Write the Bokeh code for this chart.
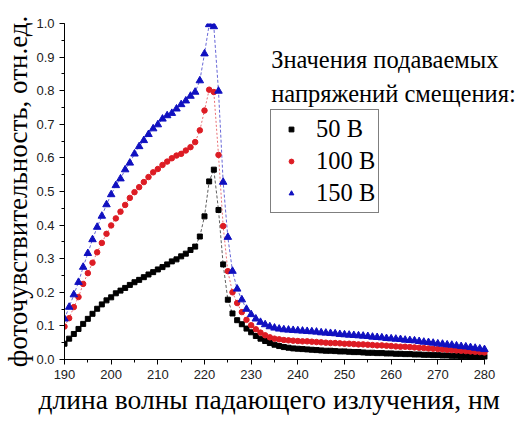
from bokeh.plotting import figure
from bokeh.models import Range1d, Legend, LegendItem, Label, Title, SingleIntervalTicker, PrintfTickFormatter
from bokeh.embed import file_html
from bokeh.resources import INLINE

wavelength = [190, 191, 192, 193, 194, 195, 196, 197, 198, 199,
              200, 201, 202, 203, 204, 205, 206, 207, 208, 209,
              210, 211, 212, 213, 214, 215, 216, 217, 218, 219,
              220, 221, 222, 223, 224, 225, 226, 227, 228, 229,
              230, 231, 232, 233, 234, 235, 236, 237, 238, 239,
              240, 241, 242, 243, 244, 245, 246, 247, 248, 249,
              250, 251, 252, 253, 254, 255, 256, 257, 258, 259,
              260, 261, 262, 263, 264, 265, 266, 267, 268, 269,
              270, 271, 272, 273, 274, 275, 276, 277, 278, 279, 280]

v50 = [0.047, 0.062, 0.076, 0.091, 0.106, 0.121, 0.136, 0.151, 0.164, 0.176,
       0.185, 0.197, 0.205, 0.213, 0.222, 0.230, 0.237, 0.245, 0.253, 0.260,
       0.268, 0.275, 0.283, 0.292, 0.298, 0.307, 0.315, 0.326, 0.336, 0.366,
       0.426, 0.530, 0.565, 0.445, 0.283, 0.178, 0.137, 0.117, 0.105, 0.092,
       0.081, 0.070, 0.062, 0.055, 0.049, 0.044, 0.040, 0.037, 0.035, 0.033,
       0.032, 0.031, 0.030, 0.029, 0.028, 0.027, 0.026, 0.026, 0.025, 0.024,
       0.024, 0.023, 0.022, 0.022, 0.021, 0.020, 0.020, 0.019, 0.019, 0.018,
       0.018, 0.017, 0.017, 0.016, 0.016, 0.015, 0.015, 0.014, 0.014, 0.013,
       0.013, 0.012, 0.012, 0.011, 0.011, 0.010, 0.010, 0.009, 0.009, 0.008, 0.008]

v100 = [0.098, 0.123, 0.156, 0.186, 0.225, 0.257, 0.288, 0.319, 0.347, 0.374,
        0.399, 0.420, 0.440, 0.460, 0.481, 0.498, 0.513, 0.528, 0.543, 0.557,
        0.567, 0.579, 0.589, 0.599, 0.607, 0.612, 0.622, 0.632, 0.647, 0.682,
        0.741, 0.803, 0.796, 0.609, 0.397, 0.263, 0.200, 0.168, 0.141, 0.118,
        0.102, 0.090, 0.080, 0.072, 0.066, 0.062, 0.060, 0.058, 0.057, 0.056,
        0.055, 0.054, 0.054, 0.053, 0.052, 0.051, 0.050, 0.049, 0.049, 0.048,
        0.047, 0.047, 0.046, 0.045, 0.045, 0.044, 0.043, 0.042, 0.042, 0.041,
        0.040, 0.039, 0.038, 0.038, 0.037, 0.036, 0.035, 0.034, 0.033, 0.032,
        0.031, 0.030, 0.029, 0.028, 0.027, 0.026, 0.025, 0.024, 0.023, 0.022, 0.021]

v150 = [0.121, 0.156, 0.193, 0.230, 0.275, 0.316, 0.357, 0.394, 0.427, 0.461,
        0.491, 0.518, 0.538, 0.565, 0.585, 0.612, 0.634, 0.652, 0.670, 0.687,
        0.699, 0.716, 0.726, 0.733, 0.746, 0.759, 0.770, 0.784, 0.796, 0.830,
        0.910, 0.997, 0.991, 0.799, 0.528, 0.364, 0.263, 0.210, 0.178, 0.150,
        0.134, 0.121, 0.111, 0.104, 0.098, 0.094, 0.091, 0.089, 0.088, 0.087,
        0.086, 0.085, 0.084, 0.083, 0.082, 0.080, 0.079, 0.078, 0.077, 0.075,
        0.074, 0.073, 0.072, 0.071, 0.070, 0.069, 0.067, 0.066, 0.065, 0.063,
        0.062, 0.061, 0.060, 0.058, 0.057, 0.056, 0.054, 0.052, 0.051, 0.049,
        0.047, 0.046, 0.044, 0.043, 0.041, 0.039, 0.038, 0.036, 0.034, 0.032, 0.030]

series_labels = ["50 В", "100 В", "150 В"]
legend_title = ["Значения подаваемых", "напряжений смещения:"]
x_title = "длина волны падающего излучения, нм"
y_title = "фоточувствительность, отн.ед."

BLACK = "#000000"
RED = "#dd1c24"
BLUE = "#1010c0"

# frame: left 64 .. right 521 px, axis drawn only 190..280 (4.667 px per nm)
p = figure(width=523, height=421, output_backend="svg", toolbar_location=None,
           x_range=Range1d(190, 287.93), y_range=Range1d(0, 1.0),
           min_border_left=64, min_border_right=2, min_border_top=23, min_border_bottom=62)
p.xgrid.visible = False
p.ygrid.visible = False
p.outline_line_color = None
p.background_fill_color = "white"
p.border_fill_color = "white"

# data lines (thin dashed)
p.line(wavelength, v50, line_color=BLACK, line_width=0.8, line_dash="3 2", line_alpha=0.8)
p.line(wavelength, v100, line_color=RED, line_width=0.8, line_dash="2 2", line_alpha=0.8)
p.line(wavelength, v150, line_color=BLUE, line_width=0.8, line_dash="3 2", line_alpha=0.8)

r50 = p.scatter(wavelength, v50, marker="square", size=5, fill_color=BLACK, line_color=BLACK)
r100 = p.scatter(wavelength, v100, marker="circle", size=5.5, fill_color=RED, line_color=RED)
r150 = p.scatter(wavelength, v150, marker="triangle", size=7.5, fill_color=BLUE, line_color=BLUE)

# legend keys (solid lines, as in the reference legend)
k100 = p.line([], [], line_color=RED, line_width=1)
k150 = p.line([], [], line_color=BLUE, line_width=1)

for ax in (p.xaxis, p.yaxis):
    ax.axis_line_color = "black"
    ax.axis_line_width = 1
    ax.major_tick_in = 0
    ax.major_tick_out = 5
    ax.minor_tick_in = 0
    ax.minor_tick_out = 3
    ax.major_tick_line_color = "black"
    ax.minor_tick_line_color = "black"
    ax.major_label_text_font = "Liberation Sans"
    ax.major_label_text_font_size = "13px"
    ax.major_label_text_color = "#222222"
    ax.axis_label_text_font = "Liberation Serif"
    ax.axis_label_text_font_style = "normal"
    ax.axis_label_text_color = "black"

p.yaxis.axis_label_text_font_size = "27px"
p.xaxis.bounds = (190, 280)
p.xaxis.ticker = SingleIntervalTicker(interval=10, num_minor_ticks=2)
p.yaxis.ticker = SingleIntervalTicker(interval=0.1, num_minor_ticks=2)
p.yaxis.formatter = PrintfTickFormatter(format="%.1f")
p.yaxis.axis_label = y_title
p.yaxis.axis_label_standoff = 0
p.xaxis.major_label_standoff = 5
p.yaxis.major_label_standoff = 5

# x-axis title, placed under the 190..280 axis span (not the wider frame)
p.add_layout(Title(text=x_title, align="left", offset=-26, standoff=0,
                   text_font="Liberation Serif", text_font_size="27.5px",
                   text_font_style="normal", text_color="black"), "below")

p.add_layout(Label(x=234.3, y=0.893, text=legend_title[0], text_font="Liberation Serif",
                   text_font_size="24.5px", text_baseline="alphabetic", text_color="black"))
p.add_layout(Label(x=234.3, y=0.792, text=legend_title[1], text_font="Liberation Serif",
                   text_font_size="24.5px", text_baseline="alphabetic", text_color="black"))

legend = Legend(items=[LegendItem(label=series_labels[0], renderers=[r50]),
                       LegendItem(label=series_labels[1], renderers=[k100, r100]),
                       LegendItem(label=series_labels[2], renderers=[k150, r150])],
                location=(206, 146), orientation="vertical",
                label_text_font="Liberation Serif", label_text_font_size="24.5px",
                label_text_color="black",
                glyph_width=34, glyph_height=12, label_height=32, label_standoff=8,
                spacing=0, padding=3, margin=0,
                border_line_color="black", border_line_width=1,
                background_fill_color="white", background_fill_alpha=1.0)
p.add_layout(legend)

open("out.html", "w").write(file_html(p, INLINE))
